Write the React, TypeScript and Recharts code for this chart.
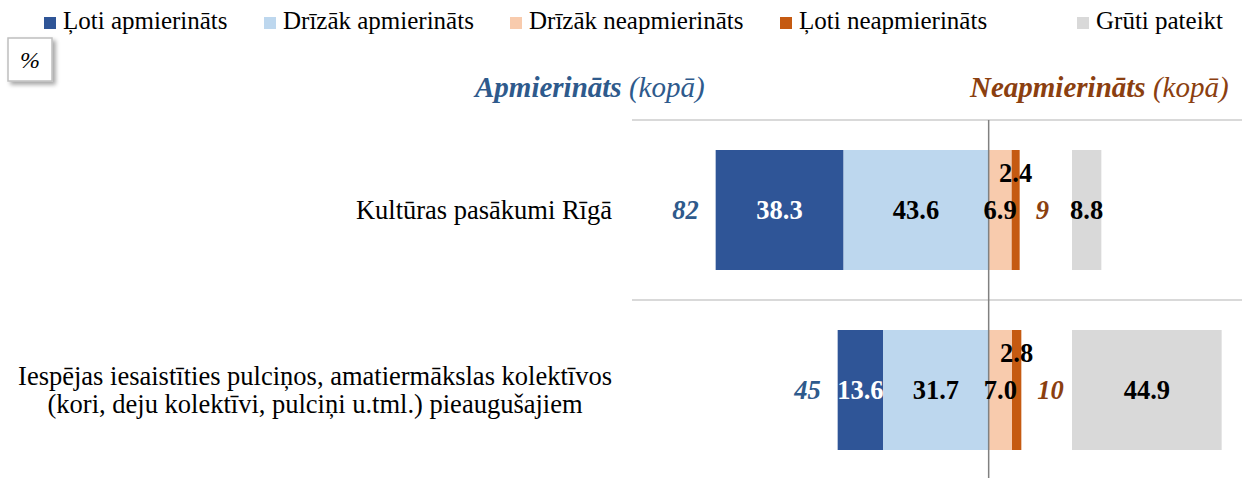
import React from 'react';
import { BarChart, Bar, XAxis, YAxis, CartesianGrid, ReferenceLine, LabelList } from 'recharts';

const categories = [
  'Kultūras pasākumi Rīgā',
  'Iespējas iesaistīties pulciņos, amatiermākslas kolektīvos\n(kori, deju kolektīvi, pulciņi u.tml.) pieaugušajiem',
];
const veryS = [38.3, 13.6];
const ratherS = [43.6, 31.7];
const ratherD = [6.9, 7.0];
const veryD = [2.4, 2.8];
const hard = [8.8, 44.9];
const totalS = [82, 45];
const totalD = [9, 10];

const legendItems = [
  { label: 'Ļoti apmierināts', color: '#2F5597' },
  { label: 'Drīzāk apmierināts', color: '#BDD7EE' },
  { label: 'Drīzāk neapmierināts', color: '#F8CBAD' },
  { label: 'Ļoti neapmierināts', color: '#C55A11' },
  { label: 'Grūti pateikt', color: '#D9D9D9' },
];
const legendX = [44, 264, 510, 780, 1077];

const FONT = '"Liberation Serif", "Times New Roman", serif';
const FS = 26.5;
const BLUE = '#2E5A8C';
const BROWN = '#8B3F10';
const GAP = 25; // where the "Grūti pateikt" bars start

const data = categories.map((name, i) => ({
  name,
  ratherS: -ratherS[i],
  veryS: -veryS[i],
  ratherD: ratherD[i],
  veryD: veryD[i],
  hard: hard[i],
}));

let canvas: HTMLCanvasElement | null = null;
function textWidth(s: string) {
  if (!canvas) canvas = document.createElement('canvas');
  const ctx = canvas.getContext('2d')!;
  ctx.font = `${FS}px "Liberation Serif"`;
  return ctx.measureText(s).width;
}

function box(p: any) {
  const vb = p.viewBox && p.viewBox.width !== undefined ? p.viewBox : p;
  const x1 = Math.min(vb.x, vb.x + vb.width);
  const x2 = Math.max(vb.x, vb.x + vb.width);
  return { x1, x2, cy: vb.y + vb.height / 2, top: vb.y };
}

const CategoryTick = (props: any) => {
  const { x, y, payload } = props;
  const lines = String(payload.value).split('\n');
  const w = Math.max(...lines.map(textWidth));
  const lh = 28;
  const start = y - ((lines.length - 1) * lh) / 2;
  return (
    <g>
      {lines.map((l, i) => (
        <text key={i} x={x - w / 2} y={start + i * lh} dy="0.35em" textAnchor="middle"
          fontFamily={FONT} fontSize={FS} fill="#000">{l}</text>
      ))}
    </g>
  );
};

const valueText = (cx: number, cy: number, v: number, fill: string) => (
  <text x={cx} y={cy} dy="0.35em" textAnchor="middle" fontFamily={FONT} fontSize={FS}
    fontWeight="bold" fill={fill}>{Math.abs(v).toFixed(1)}</text>
);

const VeryS = (p: any) => {
  const b = box(p);
  return (
    <g>
      {valueText((b.x1 + b.x2) / 2, b.cy, veryS[p.index], '#fff')}
      <text x={b.x1 - 17} y={b.cy} dy="0.35em" textAnchor="end" fontFamily={FONT} fontSize={FS}
        fontWeight="bold" fontStyle="italic" fill={BLUE}>{totalS[p.index]}</text>
    </g>
  );
};
const RatherS = (p: any) => {
  const b = box(p);
  return valueText((b.x1 + b.x2) / 2, b.cy, ratherS[p.index], '#000');
};
const RatherD = (p: any) => {
  const b = box(p);
  return valueText((b.x1 + b.x2) / 2, b.cy, ratherD[p.index], '#000');
};
const VeryD = (p: any) => {
  const b = box(p);
  return (
    <g>
      {valueText((b.x1 + b.x2) / 2, b.cy - 37, veryD[p.index], '#000')}
      <text x={b.x2 + 16} y={b.cy} dy="0.35em" textAnchor="start" fontFamily={FONT} fontSize={FS}
        fontWeight="bold" fontStyle="italic" fill={BROWN}>{totalD[p.index]}</text>
    </g>
  );
};
const Hard = (p: any) => {
  const b = box(p);
  return valueText((b.x1 + b.x2) / 2, b.cy, hard[p.index], '#000');
};

export default function App() {
  return (
    <div style={{ position: 'relative', width: 1242, height: 478, overflow: 'hidden', background: '#fff' }}>
      <style>{'body{margin:0}'}</style>
      <BarChart width={1242} height={480} data={data} layout="vertical" stackOffset="sign"
        margin={{ top: 120, right: 0, bottom: 0, left: 612 }}>
        <CartesianGrid vertical={false} stroke="#D9D9D9" strokeWidth={2}
          horizontalCoordinatesGenerator={({ offset }: any) => [offset.top, offset.top + offset.height / 2, offset.top + offset.height]} />
        <XAxis type="number" domain={[-107, 76]} allowDataOverflow hide />
        <YAxis type="category" dataKey="name" width={20} axisLine={false} tickLine={false}
          tickSize={0} tickMargin={20} tick={<CategoryTick />} interval={0} />
        <YAxis yAxisId="g" type="category" dataKey="name" hide />
        <Bar dataKey="ratherS" stackId="a" fill="#BDD7EE" barSize={120} isAnimationActive={false}>
          <LabelList dataKey="ratherS" content={RatherS} />
        </Bar>
        <Bar dataKey="veryS" stackId="a" fill="#2F5597" barSize={120} isAnimationActive={false}>
          <LabelList dataKey="veryS" content={VeryS} />
        </Bar>
        <Bar dataKey="ratherD" stackId="a" fill="#F8CBAD" barSize={120} isAnimationActive={false}>
          <LabelList dataKey="ratherD" content={RatherD} />
        </Bar>
        <Bar dataKey="veryD" stackId="a" fill="#C55A11" barSize={120} isAnimationActive={false}>
          <LabelList dataKey="veryD" content={VeryD} />
        </Bar>
        <Bar yAxisId="g" dataKey={(d: any) => [GAP, GAP + d.hard]} fill="#D9D9D9" barSize={120} isAnimationActive={false}>
          <LabelList dataKey="hard" content={Hard} />
        </Bar>
        <ReferenceLine x={0} stroke="#808080" strokeWidth={1.5} />
      </BarChart>

      <svg width={1242} height={478} style={{ position: 'absolute', left: 0, top: 0, pointerEvents: 'none' }}>
        <defs>
          <filter id="sh" x="-30%" y="-30%" width="170%" height="170%">
            <feDropShadow dx="3" dy="3" stdDeviation="2" floodColor="#000" floodOpacity="0.35" />
          </filter>
        </defs>
        <rect x={8} y={38} width={44} height={43} fill="#fff" stroke="#BFBFBF" strokeWidth={1.5} filter="url(#sh)" />
        <text x={30} y={68} textAnchor="middle" fontFamily={FONT} fontSize={24} fontStyle="italic">%</text>
        {legendItems.map((it, i) => (
          <g key={it.label}>
            <rect x={legendX[i]} y={17} width={12} height={12} fill={it.color} />
            <text x={legendX[i] + 19} y={29} fontFamily={FONT} fontSize={25} fill="#000">{it.label}</text>
          </g>
        ))}
        <text x={475} y={97} fontFamily={FONT} fontSize={29} fontStyle="italic" fill={BLUE}>
          <tspan fontWeight="bold">Apmierināts</tspan> (kopā)
        </text>
        <text x={970} y={97} fontFamily={FONT} fontSize={29} fontStyle="italic" fill={BROWN}>
          <tspan fontWeight="bold">Neapmierināts</tspan> (kopā)
        </text>
      </svg>
    </div>
  );
}
